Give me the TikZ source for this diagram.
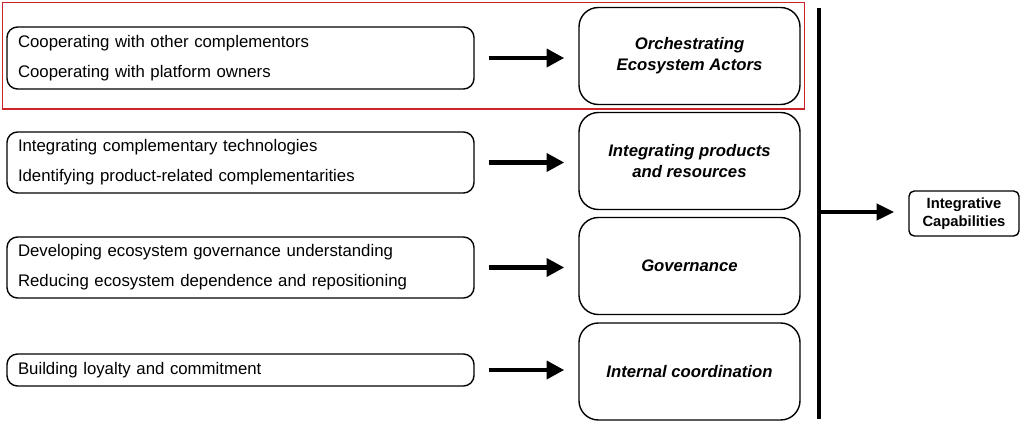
\documentclass[tikz,border=0pt]{standalone}
\usepackage{fontspec}
\setmainfont{Liberation Sans}
\usepackage{xcolor}
\usepackage{tikz}
\usetikzlibrary{shapes.geometric, arrows.meta, positioning, fit}

\definecolor{markred}{RGB}{205,35,40}

\begin{document}
\begin{tikzpicture}[auto]
				% Styles
				\tikzstyle{practice} = [draw, thick, rectangle, rounded corners=6pt, text width=8.9cm, inner xsep=0.22cm, align=left, font=\fontsize{9.55}{17}\selectfont]
				\tikzstyle{capability} = [draw, thick, rectangle, rounded corners=11pt, minimum width=4.42cm, minimum height=1.94cm, align=center, font=\fontsize{9.5}{12}\selectfont\bfseries\itshape]
				\tikzstyle{result} = [draw, thick, rectangle, rounded corners=3pt, minimum width=2.2cm, minimum height=0.9cm, align=center, font=\fontsize{8.4}{10}\selectfont\bfseries]
				\tikzstyle{arrow} = [line width=2.6pt, -{Triangle[length=10pt,width=10pt]}, shorten <=0.28cm, shorten >=0.28cm]

				\useasboundingbox (0,0) rectangle (20.48,-8.72);

				% Nodes with absolute coordinates
				\node (actors) [practice, minimum height=1.24cm] at (4.81,-1.16) {Cooperating with other complementors\\Cooperating with platform owners};
				\node (products) [practice, minimum height=1.22cm] at (4.81,-3.25) {Integrating complementary technologies\\Identifying product-related complementarities};
				\node (govern) [practice, minimum height=1.22cm] at (4.81,-5.35) {Developing ecosystem governance understanding\\Reducing ecosystem dependence and repositioning};
				\node (loyalty) [practice, minimum height=0.64cm] at (4.81,-7.40) {Building loyalty and commitment};

				\node (orchestrating) [capability] at (13.79,-1.12) {Orchestrating\\Ecosystem Actors};
				\node (integrating) [capability] at (13.79,-3.22) {Integrating products\\and resources};
				\node (governance) [capability] at (13.79,-5.32) {Governance};
				\node (internal) [capability] at (13.79,-7.43) {Internal coordination};

				\node (integrative) [result] at (19.28,-4.27) {Integrative\\Capabilities};

				% Highlight of the first row
				\node (highlight) [draw=markred, line width=0.8pt, inner sep=0.08cm, fit=(actors)(orchestrating)] {};

				% Bar
				\coordinate (bartop) at (16.38,-0.16);
				\coordinate (barbot) at (16.38,-8.38);
				\coordinate (barmid) at (16.38,-4.24);
				\draw [line width=1.9pt] (bartop) -- (barbot);

				% Connections
				\draw [arrow] (actors.east) -- (actors.east -| orchestrating.west);
				\draw [arrow] (products.east) -- (products.east -| integrating.west);
				\draw [arrow] (govern.east) -- (govern.east -| governance.west);
				\draw [arrow] (loyalty.east) -- (loyalty.east -| internal.west);
				\draw [arrow, -{Triangle[length=10pt,width=9pt]}, shorten <=0pt] (barmid) -- (barmid -| integrative.west);

			\end{tikzpicture}
\end{document}
